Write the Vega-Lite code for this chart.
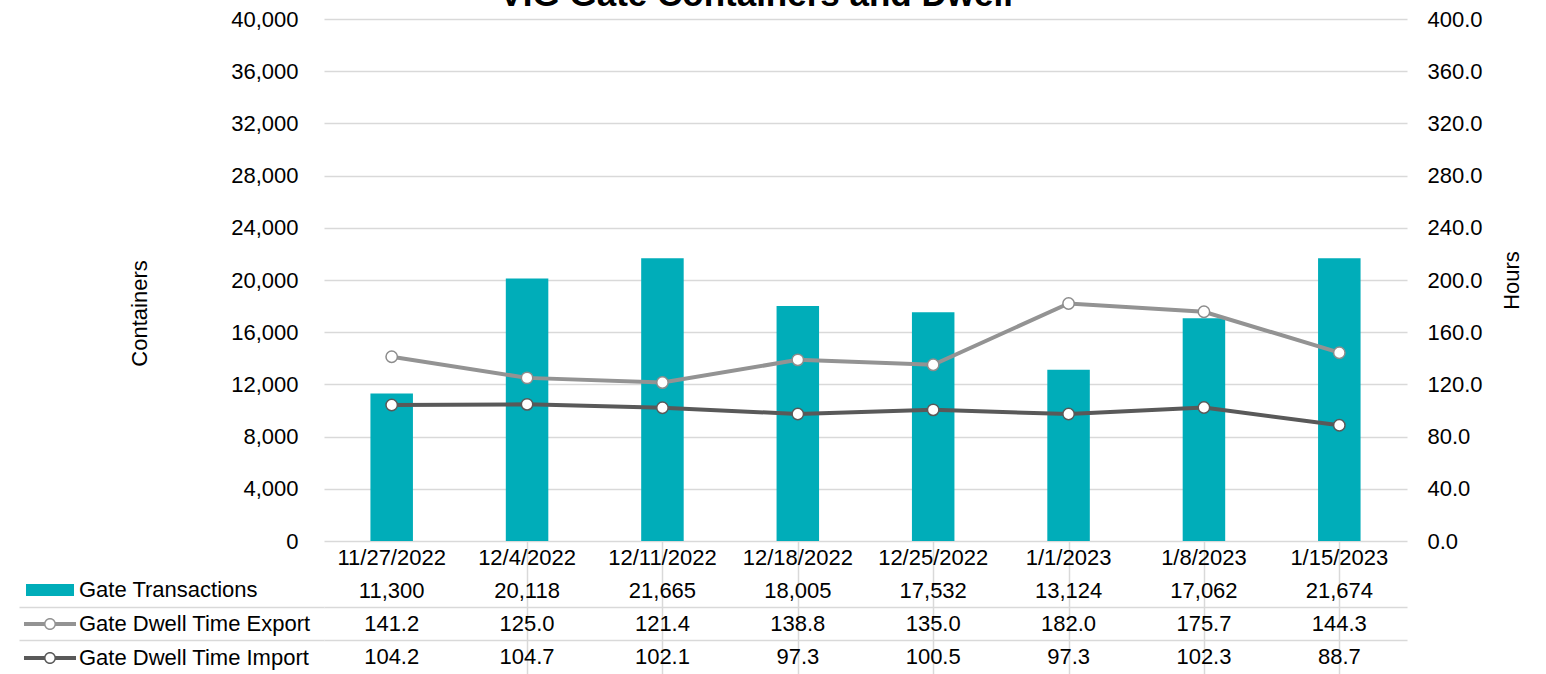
{
  "$schema": "https://vega.github.io/schema/vega-lite/v6.json",
  "padding": {"left": 18, "top": -22, "right": 0, "bottom": 0},
  "title": {"text": "VIG Gate Containers and Dwell", "fontSize": 35, "fontWeight": "bold", "color": "#000000", "anchor": "middle", "offset": -5, "dx": -14},
  "config": {
    "font": "Liberation Sans",
    "view": {"stroke": null}
  },
  "datasets": {
    "gate": [
      {"date": "11/27/2022", "series": "Gate Transactions", "value": 11300},
      {"date": "12/4/2022", "series": "Gate Transactions", "value": 20118},
      {"date": "12/11/2022", "series": "Gate Transactions", "value": 21665},
      {"date": "12/18/2022", "series": "Gate Transactions", "value": 18005},
      {"date": "12/25/2022", "series": "Gate Transactions", "value": 17532},
      {"date": "1/1/2023", "series": "Gate Transactions", "value": 13124},
      {"date": "1/8/2023", "series": "Gate Transactions", "value": 17062},
      {"date": "1/15/2023", "series": "Gate Transactions", "value": 21674},
      {"date": "11/27/2022", "series": "Gate Dwell Time Export", "value": 141.2},
      {"date": "12/4/2022", "series": "Gate Dwell Time Export", "value": 125.0},
      {"date": "12/11/2022", "series": "Gate Dwell Time Export", "value": 121.4},
      {"date": "12/18/2022", "series": "Gate Dwell Time Export", "value": 138.8},
      {"date": "12/25/2022", "series": "Gate Dwell Time Export", "value": 135.0},
      {"date": "1/1/2023", "series": "Gate Dwell Time Export", "value": 182.0},
      {"date": "1/8/2023", "series": "Gate Dwell Time Export", "value": 175.7},
      {"date": "1/15/2023", "series": "Gate Dwell Time Export", "value": 144.3},
      {"date": "11/27/2022", "series": "Gate Dwell Time Import", "value": 104.2},
      {"date": "12/4/2022", "series": "Gate Dwell Time Import", "value": 104.7},
      {"date": "12/11/2022", "series": "Gate Dwell Time Import", "value": 102.1},
      {"date": "12/18/2022", "series": "Gate Dwell Time Import", "value": 97.3},
      {"date": "12/25/2022", "series": "Gate Dwell Time Import", "value": 100.5},
      {"date": "1/1/2023", "series": "Gate Dwell Time Import", "value": 97.3},
      {"date": "1/8/2023", "series": "Gate Dwell Time Import", "value": 102.3},
      {"date": "1/15/2023", "series": "Gate Dwell Time Import", "value": 88.7}
    ]
  },
  "data": {"name": "gate"},
  "spacing": 0,
  "bounds": "flush",
  "vconcat": [
    {
      "width": 1083,
      "height": 522,
      "layer": [
        {
          "transform": [{"filter": "datum.series === 'Gate Transactions'"}],
          "mark": {"type": "bar", "width": {"band": 0.314}},
          "encoding": {
            "x": {"field": "date", "type": "nominal", "sort": ["11/27/2022", "12/4/2022", "12/11/2022", "12/18/2022", "12/25/2022", "1/1/2023", "1/8/2023", "1/15/2023"], "scale": {"paddingInner": 0, "paddingOuter": 0}, "axis": null},
            "y": {
              "field": "value", "type": "quantitative",
              "scale": {"domain": [0, 40000]},
              "axis": {
                "orient": "left", "values": [0, 4000, 8000, 12000, 16000, 20000, 24000, 28000, 32000, 36000, 40000],
                "format": ",d", "labelFontSize": 22, "labelColor": "#000000", "labelPadding": 26,
                "ticks": false, "domain": false, "grid": true, "gridColor": "#d9d9d9", "gridWidth": 1.5,
                "title": "Containers", "titleFontSize": 22, "titleFontWeight": "normal", "titleColor": "#000000",
                "titlePadding": 79, "titleY": 294
              }
            },
            "color": {
              "field": "series", "type": "nominal",
              "scale": {"domain": ["Gate Transactions", "Gate Dwell Time Export", "Gate Dwell Time Import"], "range": ["#00ADB9", "#939393", "#595959"]},
              "legend": {
                "orient": "none", "legendX": -296.5, "legendY": 548.5, "title": null, "direction": "vertical",
                "labelFontSize": 22, "labelColor": "#000000", "labelOffset": 6.5, "labelLimit": 400, "labelBaseline": "middle",
                "symbolSize": 2025, "symbolStrokeWidth": 0, "rowPadding": 0, "padding": 0,
                "encode": {
                  "symbols": {
                    "update": {
                      "shape": {"signal": "datum.value === 'Gate Transactions' ? 'M-1.067,-0.267H1.067V0.267H-1.067Z' : 'M-1.156,-0.089H-0.23V0.089H-1.156Z M0.23,-0.089H1.156V0.089H0.23Z M0.267,0A0.267,0.267,0,1,1,-0.267,0A0.267,0.267,0,1,1,0.267,0Z M0.2,0A0.2,0.2,0,1,0,-0.2,0A0.2,0.2,0,1,0,0.2,0Z'"},
                      "fill": {"signal": "scale('color', datum.value)"},
                      "stroke": {"value": "transparent"},
                      "strokeWidth": {"value": 0},
                      "opacity": {"value": 1},
                      "size": {"value": 2025}
                    }
                  }
                }
              }
            }
          }
        },
        {
          "transform": [{"filter": "datum.series !== 'Gate Transactions'"}],
          "encoding": {
            "x": {"field": "date", "type": "nominal", "sort": ["11/27/2022", "12/4/2022", "12/11/2022", "12/18/2022", "12/25/2022", "1/1/2023", "1/8/2023", "1/15/2023"], "axis": null},
            "y": {
              "field": "value", "type": "quantitative",
              "scale": {"domain": [0, 400]},
              "axis": {
                "orient": "right", "values": [0, 40, 80, 120, 160, 200, 240, 280, 320, 360, 400],
                "format": ".1f", "labelFontSize": 22, "labelColor": "#000000", "labelPadding": 20,
                "ticks": false, "domain": false, "grid": false,
                "title": "Hours", "titleFontSize": 22, "titleFontWeight": "normal", "titleColor": "#000000",
                "titleAngle": -90, "titleBaseline": "top", "titlePadding": 19
              }
            }
          },
          "layer": [
            {
              "mark": {"type": "line", "strokeWidth": 4},
              "encoding": {"color": {"field": "series", "type": "nominal"}}
            },
            {
              "mark": {"type": "point", "shape": "circle", "filled": true, "fill": "white", "size": 130, "strokeWidth": 1.5, "opacity": 1},
              "encoding": {
                "stroke": {"field": "series", "type": "nominal", "scale": {"domain": ["Gate Dwell Time Export", "Gate Dwell Time Import"], "range": ["#8c8c8c", "#595959"]}, "legend": null}
              }
            }
          ]
        }
      ],
      "resolve": {"scale": {"y": "independent"}}
    },
    {
      "width": 1083,
      "height": 133,
      "encoding": {
        "x": {
          "field": "date", "type": "nominal",
          "sort": ["11/27/2022", "12/4/2022", "12/11/2022", "12/18/2022", "12/25/2022", "1/1/2023", "1/8/2023", "1/15/2023"],
          "scale": {"paddingInner": 0, "paddingOuter": 0},
          "axis": {
            "orient": "top", "labels": false, "ticks": false, "domain": false, "title": null,
            "grid": true, "bandPosition": 0, "gridColor": "#d9d9d9", "gridWidth": 1.5,
            "gridOpacity": {"condition": {"test": "datum.index === 0", "value": 0}, "value": 1}
          }
        }
      },
      "layer": [
        {
          "transform": [{"filter": "datum.series === 'Gate Transactions'"}],
          "mark": {"type": "text", "fontSize": 22, "color": "#000000"},
          "encoding": {
            "y": {
              "datum": "Date", "type": "nominal",
              "scale": {"type": "band", "domain": ["Date", "Gate Transactions", "Gate Dwell Time Export", "Gate Dwell Time Import"], "paddingInner": 0, "paddingOuter": 0},
              "axis": {
                "orient": "left", "labels": false, "domain": false, "title": null,
                "ticks": true, "tickSize": 305, "tickColor": "#d9d9d9", "tickWidth": 1.5, "bandPosition": 0,
                "grid": true, "gridColor": "#d9d9d9", "gridWidth": 1.5,
                "tickOpacity": {"condition": {"test": "datum.value === 'Gate Dwell Time Export' || datum.value === 'Gate Dwell Time Import'", "value": 1}, "value": 0},
                "gridOpacity": {"condition": {"test": "datum.value === 'Gate Dwell Time Export' || datum.value === 'Gate Dwell Time Import'", "value": 1}, "value": 0}
              }
            },
            "text": {"field": "date", "type": "nominal"}
          }
        },
        {
          "transform": [{"filter": "datum.series === 'Gate Transactions'"}],
          "mark": {"type": "text", "fontSize": 22, "color": "#000000"},
          "encoding": {
            "y": {"field": "series", "type": "nominal"},
            "text": {"field": "value", "type": "quantitative", "format": ","}
          }
        },
        {
          "transform": [{"filter": "datum.series !== 'Gate Transactions'"}],
          "mark": {"type": "text", "fontSize": 22, "color": "#000000"},
          "encoding": {
            "y": {"field": "series", "type": "nominal"},
            "text": {"field": "value", "type": "quantitative", "format": ".1f"}
          }
        }
      ]
    }
  ]
}
